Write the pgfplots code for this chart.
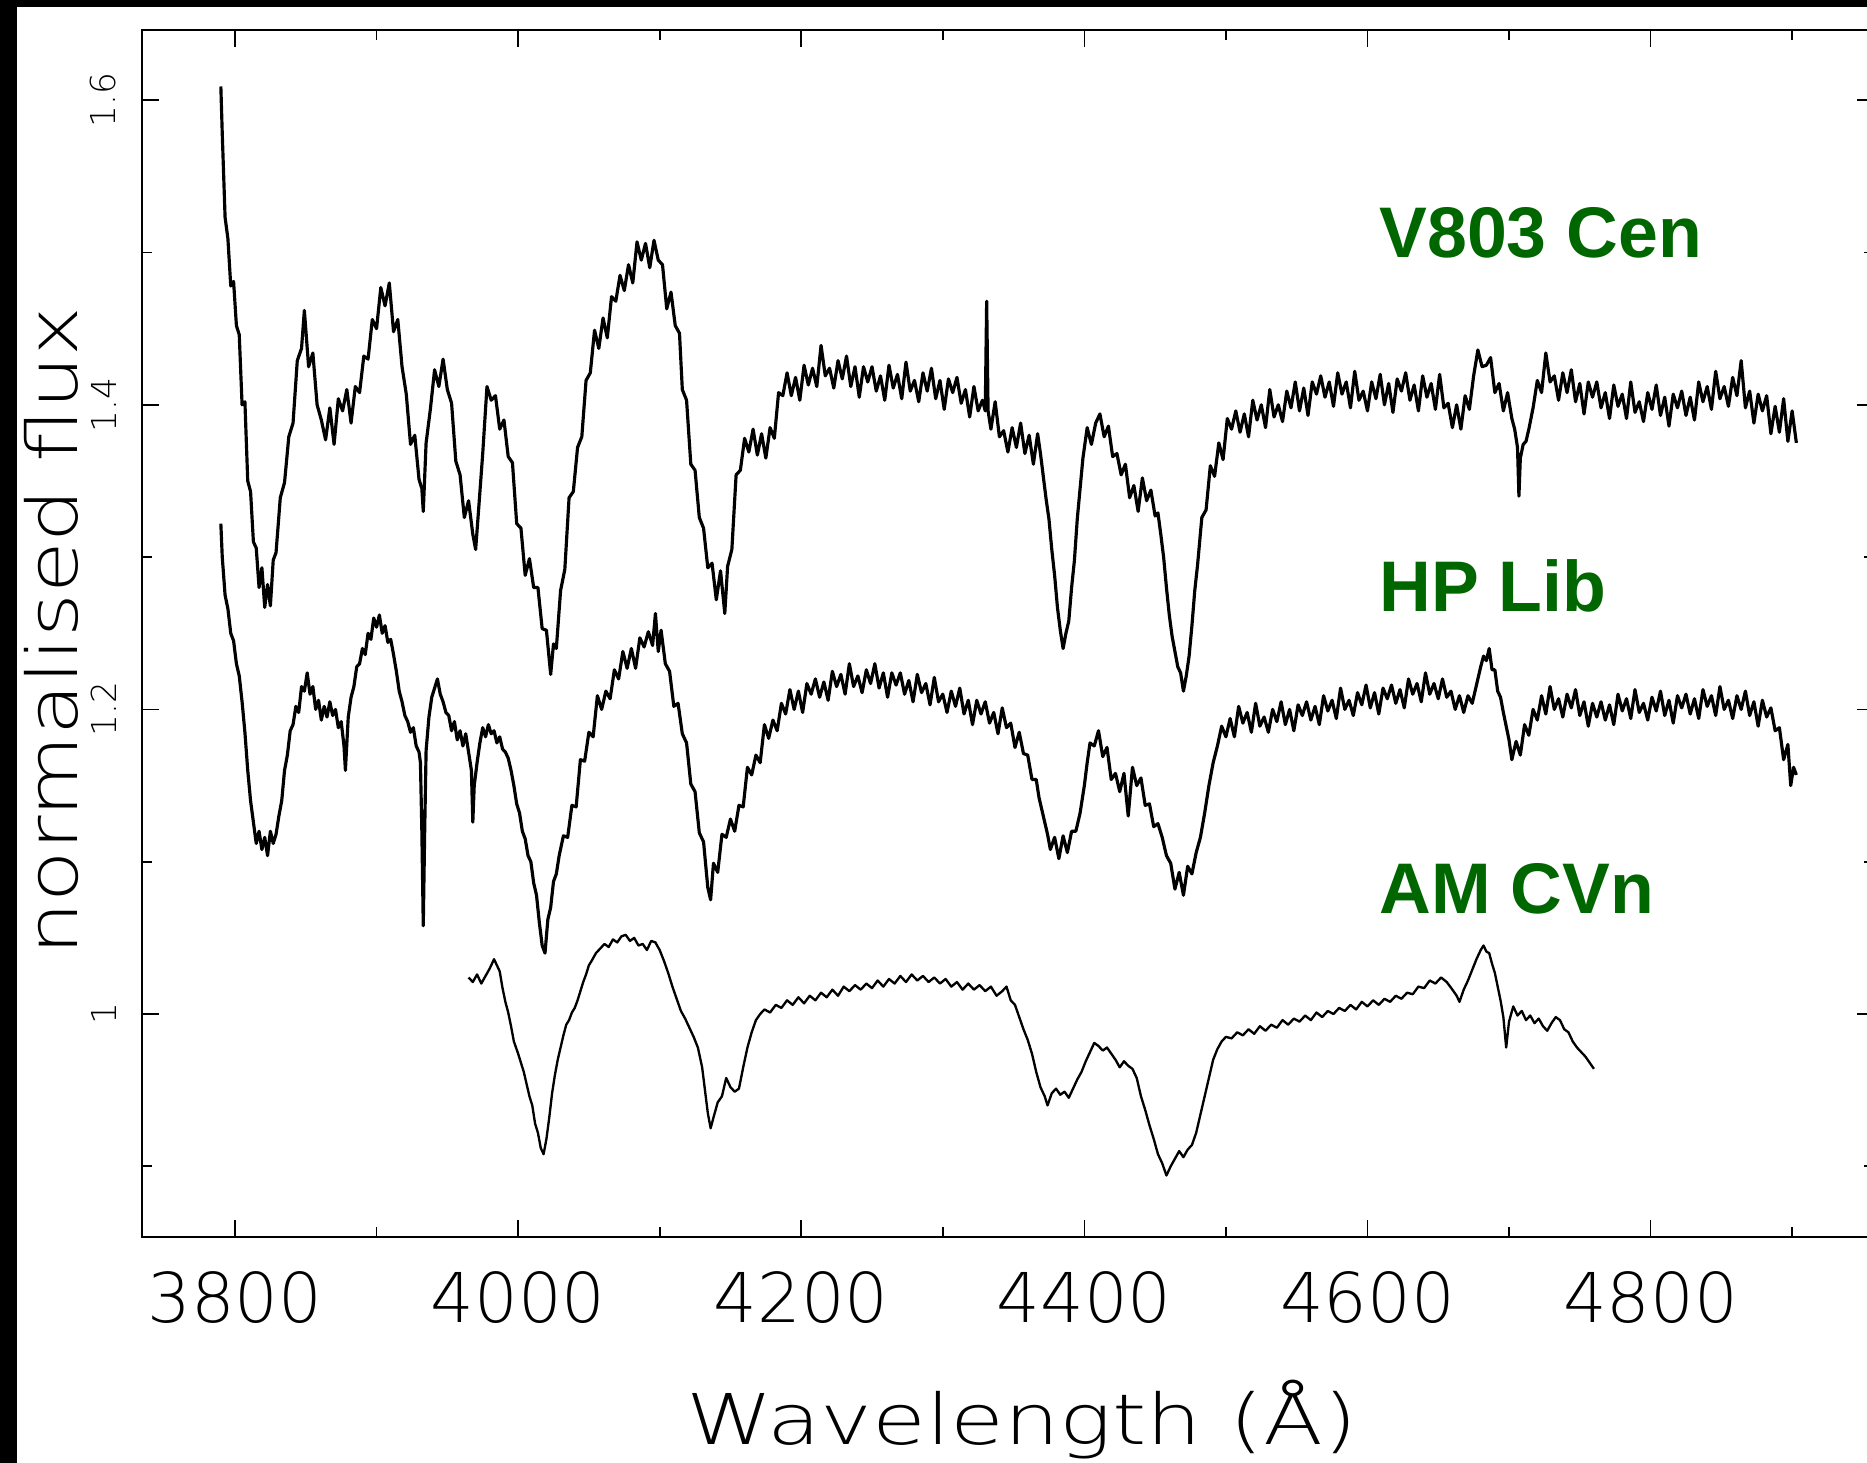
\documentclass[border=0pt]{standalone}
\usepackage{fontspec}
\usepackage{graphicx}
\usepackage{pgfplots}
\pgfplotsset{compat=1.18}
\newfontfamily\pgfont{DejaVu Sans ExtraLight}
\newfontfamily\lblfont{Liberation Sans}
\definecolor{lblgreen}{RGB}{0,102,0}
\begin{document}
\begin{tikzpicture}
\fill[black] (-42.6pt,-67.8pt) rectangle (517.5pt,371.1pt);
\fill[white] (-37.5pt,-67.8pt) rectangle (517.5pt,369.0pt);
\begin{axis}[
  at={(0,0)}, anchor=south west,
  scale only axis, width=519.5pt, height=362.1pt,
  xmin=3734.3, xmax=4957.6, ymin=0.8536, ymax=1.6461,
  xtick={3800,4000,4200,4400,4600,4800},
  xticklabels={3800,4000,4200,4400,4600,4800},
  minor xtick={3900,4100,4300,4500,4700,4900},
  ytick={1,1.2,1.4,1.6},
  yticklabels={1,1.2,1.4,1.6},
  minor ytick={0.9,1.1,1.3,1.5},
  tick align=inside,
  major tick length=5.1pt, minor tick length=3pt,
  axis line style={line width=0.5pt},
  every tick/.style={black, line width=0.5pt},
  xticklabel style={font=\pgfont\fontsize{20.6}{24}\selectfont, anchor=center, yshift=-18.3pt, inner sep=0pt},
  yticklabel style={font=\pgfont\fontsize{10.3}{12}\selectfont, xshift=-7.5pt, rotate=90, anchor=south, inner sep=0pt},
  no markers,
]
% V803 Cen
\addplot[black, line width=0.95pt, line join=round] coordinates {
(3790,1.609)(3791,1.578)(3793,1.523)(3795,1.509)(3797,1.478)(3799,1.481)(3801,1.452)(3803,1.446)(3805,1.400)(3807,1.402)(3809,1.350)(3811,1.343)(3813,1.310)(3815,1.306)(3817,1.280)(3819,1.293)(3821,1.267)(3823,1.282)(3825,1.268)(3827,1.298)(3829,1.303)
(3832,1.339)(3835,1.349)(3838,1.379)(3841,1.388)(3844,1.429)(3847,1.437)(3849,1.462)(3852,1.425)(3855,1.434)(3858,1.400)(3861,1.390)(3864,1.377)(3867,1.398)(3870,1.374)(3873,1.404)(3876,1.396)(3879,1.410)(3882,1.388)(3885,1.412)(3888,1.408)(3891,1.432)(3894,1.430)(3897,1.456)(3900,1.450)(3903,1.477)(3906,1.465)(3909,1.480)(3912,1.448)(3915,1.456)(3918,1.425)(3921,1.407)(3924,1.374)(3927,1.380)(3930,1.351)(3932,1.345)(3933,1.330)(3935,1.375)(3938,1.397)(3941,1.423)(3944,1.412)(3947,1.430)(3950,1.410)(3953,1.401)(3956,1.363)(3959,1.354)(3962,1.326)(3965,1.337)(3968,1.315)(3970,1.305)(3972,1.330)(3975,1.368)(3978,1.412)(3981,1.403)(3984,1.406)(3987,1.384)(3990,1.390)(3993,1.366)(3996,1.362)(3999,1.322)
(4002,1.319)(4005,1.288)(4008,1.299)(4011,1.280)(4014,1.280)(4017,1.253)(4020,1.252)(4023,1.223)(4025,1.243)(4027,1.240)(4030,1.278)(4033,1.292)(4036,1.339)(4039,1.343)(4042,1.372)(4045,1.379)(4048,1.416)(4051,1.421)(4054,1.449)(4057,1.437)(4060,1.457)(4063,1.444)(4066,1.471)(4069,1.468)(4072,1.485)(4075,1.475)(4078,1.492)(4081,1.480)(4084,1.507)(4087,1.495)(4090,1.506)(4093,1.490)(4096,1.508)(4099,1.495)(4102,1.492)(4105,1.463)(4108,1.474)(4111,1.452)(4114,1.447)(4116,1.410)(4119,1.403)(4122,1.361)(4125,1.357)(4128,1.326)(4131,1.319)(4134,1.293)(4137,1.296)(4140,1.272)(4143,1.291)(4146,1.263)(4148,1.294)(4151,1.305)(4154,1.354)(4157,1.357)(4160,1.378)(4163,1.369)(4166,1.384)(4169,1.367)(4172,1.381)(4175,1.365)(4178,1.385)(4181,1.378)(4184,1.408)(4187,1.406)(4190,1.421)(4193,1.406)(4196,1.418)(4199,1.403)
(4202,1.426)(4205,1.413)(4208,1.424)(4211,1.412)(4214,1.439)(4217,1.419)(4220,1.424)(4223,1.411)(4226,1.429)(4229,1.417)(4232,1.432)(4235,1.412)(4238,1.425)(4241,1.405)(4244,1.425)(4247,1.415)(4250,1.425)(4253,1.409)(4256,1.419)(4259,1.403)(4262,1.426)(4265,1.411)(4268,1.420)(4271,1.404)(4274,1.428)(4277,1.409)(4280,1.416)(4283,1.402)(4286,1.421)(4289,1.409)(4292,1.424)(4295,1.404)(4298,1.416)(4301,1.397)(4304,1.417)(4307,1.408)(4310,1.418)(4313,1.401)(4316,1.410)(4319,1.392)(4322,1.412)(4325,1.396)(4328,1.403)(4330,1.396)(4331,1.468)(4332,1.396)(4334,1.384)(4337,1.402)(4340,1.379)(4343,1.383)(4346,1.369)(4349,1.385)(4352,1.372)(4355,1.388)(4358,1.368)(4361,1.380)(4364,1.361)(4367,1.381)(4369,1.368)(4371,1.353)(4373,1.338)(4375,1.325)(4377,1.305)(4379,1.288)(4381,1.267)(4383,1.252)(4385,1.240)(4387,1.250)(4389,1.258)(4391,1.280)(4393,1.298)(4395,1.325)(4397,1.345)(4399,1.365)
(4402,1.385)(4405,1.374)(4408,1.388)(4411,1.394)(4414,1.379)(4417,1.386)(4420,1.366)(4423,1.368)(4426,1.354)(4429,1.361)(4432,1.339)(4435,1.347)(4438,1.330)(4441,1.352)(4444,1.337)(4447,1.344)(4450,1.327)(4452,1.329)(4454,1.315)(4456,1.300)(4458,1.280)(4460,1.262)(4462,1.248)(4464,1.238)(4466,1.228)(4468,1.224)(4470,1.212)(4472,1.222)(4474,1.235)(4476,1.255)(4478,1.278)(4480,1.295)(4483,1.326)(4486,1.331)(4489,1.360)(4492,1.353)(4495,1.375)(4498,1.364)(4501,1.391)(4504,1.384)(4507,1.396)(4510,1.382)(4513,1.394)(4516,1.379)(4519,1.403)(4522,1.390)(4525,1.400)(4528,1.385)(4531,1.410)(4534,1.392)(4537,1.400)(4540,1.389)(4543,1.409)(4546,1.398)(4549,1.415)(4552,1.396)(4555,1.411)(4558,1.393)(4561,1.415)(4564,1.407)(4567,1.419)(4570,1.405)(4573,1.415)(4576,1.399)(4579,1.421)(4582,1.407)(4585,1.415)(4588,1.398)(4591,1.422)(4594,1.403)(4597,1.409)
(4600,1.396)(4603,1.415)(4606,1.404)(4609,1.420)(4612,1.400)(4615,1.414)(4618,1.395)(4621,1.417)(4624,1.409)(4627,1.421)(4630,1.403)(4633,1.413)(4636,1.396)(4639,1.419)(4642,1.405)(4645,1.414)(4648,1.397)(4651,1.420)(4654,1.398)(4657,1.401)(4660,1.385)(4663,1.400)(4666,1.384)(4669,1.406)(4672,1.397)(4675,1.419)(4678,1.436)(4681,1.425)(4684,1.426)(4687,1.431)(4690,1.408)(4693,1.414)(4696,1.396)(4699,1.408)(4702,1.391)(4704,1.384)(4706,1.372)(4707,1.340)(4708,1.365)(4710,1.374)(4712,1.376)(4714,1.384)(4717,1.398)(4720,1.416)(4723,1.408)(4726,1.434)(4729,1.415)(4732,1.419)(4735,1.403)(4738,1.421)(4741,1.408)(4744,1.423)(4747,1.402)(4750,1.414)(4753,1.394)(4756,1.415)(4759,1.405)(4762,1.415)(4765,1.398)(4768,1.408)(4771,1.391)(4774,1.413)(4777,1.399)(4780,1.407)(4783,1.391)(4786,1.415)(4789,1.395)(4792,1.402)(4795,1.389)(4798,1.408)
(4801,1.397)(4804,1.413)(4807,1.393)(4810,1.405)(4813,1.386)(4816,1.407)(4819,1.398)(4822,1.409)(4825,1.393)(4828,1.405)(4831,1.390)(4834,1.415)(4837,1.402)(4840,1.412)(4843,1.397)(4846,1.422)(4849,1.404)(4852,1.412)(4855,1.399)(4858,1.418)(4861,1.406)(4864,1.429)(4867,1.398)(4870,1.409)(4873,1.388)(4876,1.407)(4879,1.396)(4882,1.406)(4885,1.381)(4888,1.399)(4891,1.382)(4894,1.404)(4897,1.376)(4900,1.396)(4903,1.375)
};
% HP Lib
\addplot[black, line width=0.95pt, line join=round] coordinates {
(3790,1.322)(3791,1.300)(3793,1.275)(3795,1.266)(3797,1.250)(3799,1.245)(3801,1.230)(3803,1.222)(3805,1.205)(3807,1.185)(3809,1.160)(3811,1.140)(3813,1.126)(3815,1.112)(3817,1.120)(3819,1.108)(3821,1.116)(3823,1.104)(3825,1.120)(3827,1.112)(3829,1.118)(3831,1.130)(3833,1.140)(3835,1.160)(3837,1.170)(3839,1.186)(3841,1.190)(3843,1.202)(3845,1.198)(3847,1.215)(3849,1.212)(3851,1.224)(3853,1.210)(3855,1.215)(3857,1.200)(3859,1.206)(3861,1.193)(3863,1.202)(3865,1.195)(3867,1.205)(3869,1.196)(3871,1.200)(3873,1.188)(3875,1.192)(3877,1.176)(3878,1.160)(3880,1.195)(3882,1.208)(3884,1.215)(3886,1.228)(3888,1.230)(3890,1.240)(3892,1.236)(3894,1.250)(3896,1.246)(3898,1.260)
(3900,1.254)(3902,1.262)(3904,1.250)(3906,1.255)(3908,1.244)(3910,1.246)(3912,1.236)(3914,1.225)(3916,1.212)(3918,1.205)(3920,1.196)(3922,1.192)(3924,1.185)(3926,1.188)(3928,1.176)(3930,1.172)(3931,1.165)(3932,1.120)(3933,1.058)(3934,1.120)(3935,1.173)(3937,1.195)(3939,1.208)(3941,1.214)(3943,1.220)(3945,1.210)(3947,1.205)(3949,1.198)(3951,1.196)(3953,1.186)(3955,1.192)(3957,1.180)(3959,1.186)(3961,1.176)(3963,1.184)(3965,1.172)(3967,1.160)(3968,1.126)(3969,1.150)(3971,1.165)(3973,1.178)(3975,1.188)(3977,1.182)(3979,1.190)(3981,1.184)(3983,1.186)(3985,1.178)(3987,1.182)(3989,1.174)(3991,1.172)(3993,1.168)(3995,1.160)(3997,1.150)(3999,1.138)
(4001,1.132)(4003,1.120)(4005,1.115)(4007,1.104)(4009,1.100)(4011,1.086)(4013,1.078)(4015,1.060)(4017,1.045)(4019,1.040)(4021,1.062)(4023,1.070)(4025,1.087)(4027,1.092)(4029,1.104)(4032,1.117)(4035,1.116)(4038,1.137)(4041,1.136)(4044,1.167)(4047,1.166)(4050,1.185)(4053,1.182)(4056,1.209)(4059,1.200)(4062,1.212)(4065,1.207)(4068,1.226)(4071,1.220)(4074,1.238)(4077,1.227)(4080,1.240)(4083,1.227)(4086,1.247)(4089,1.241)(4092,1.251)(4095,1.242)(4097,1.263)(4099,1.238)(4101,1.252)(4104,1.230)(4107,1.225)(4110,1.202)(4113,1.204)(4116,1.184)(4119,1.178)(4122,1.151)(4125,1.146)(4128,1.119)(4131,1.113)(4134,1.083)(4136,1.075)(4138,1.099)(4141,1.093)(4144,1.118)(4147,1.116)(4150,1.128)(4153,1.120)(4156,1.137)(4159,1.136)(4162,1.162)(4165,1.157)(4168,1.170)(4171,1.165)(4174,1.190)(4177,1.181)(4180,1.193)(4183,1.186)(4186,1.204)(4189,1.197)(4192,1.213)(4195,1.200)(4198,1.212)
(4201,1.198)(4204,1.217)(4207,1.210)(4210,1.220)(4213,1.208)(4216,1.218)(4219,1.206)(4222,1.225)(4225,1.215)(4228,1.223)(4231,1.210)(4234,1.230)(4237,1.215)(4240,1.222)(4243,1.211)(4246,1.226)(4249,1.217)(4252,1.230)(4255,1.214)(4258,1.224)(4261,1.208)(4264,1.224)(4267,1.216)(4270,1.224)(4273,1.210)(4276,1.219)(4279,1.205)(4282,1.223)(4285,1.211)(4288,1.217)(4291,1.203)(4294,1.221)(4297,1.205)(4300,1.210)(4303,1.198)(4306,1.212)(4309,1.202)(4312,1.214)(4315,1.197)(4318,1.206)(4321,1.190)(4324,1.206)(4327,1.197)(4330,1.205)(4333,1.191)(4336,1.198)(4339,1.184)(4342,1.201)(4345,1.188)(4348,1.191)(4351,1.175)(4354,1.185)(4357,1.171)(4360,1.170)(4363,1.154)(4366,1.154)(4368,1.142)(4370,1.134)(4372,1.126)(4374,1.118)(4376,1.108)(4379,1.116)(4382,1.102)(4385,1.117)(4388,1.106)(4391,1.120)(4394,1.120)(4397,1.132)
(4400,1.150)(4402,1.165)(4404,1.178)(4407,1.176)(4410,1.186)(4413,1.169)(4416,1.175)(4419,1.154)(4422,1.158)(4425,1.146)(4428,1.158)(4431,1.130)(4434,1.162)(4437,1.150)(4440,1.155)(4443,1.137)(4446,1.138)(4449,1.123)(4452,1.125)(4455,1.116)(4458,1.104)(4461,1.099)(4464,1.082)(4467,1.093)(4470,1.078)(4473,1.097)(4476,1.092)(4479,1.106)(4482,1.116)(4485,1.132)(4488,1.150)(4491,1.165)(4494,1.176)(4497,1.189)(4500,1.182)(4503,1.194)(4506,1.182)(4509,1.202)(4512,1.191)(4515,1.198)(4518,1.185)(4521,1.204)(4524,1.189)(4527,1.195)(4530,1.185)(4533,1.200)(4536,1.192)(4539,1.205)(4542,1.190)(4545,1.200)(4548,1.186)(4551,1.203)(4554,1.196)(4557,1.205)(4560,1.193)(4563,1.202)(4566,1.190)(4569,1.209)(4572,1.199)(4575,1.206)(4578,1.194)(4581,1.214)(4584,1.200)(4587,1.206)(4590,1.196)(4593,1.211)(4596,1.203)(4599,1.216)
(4602,1.201)(4605,1.211)(4608,1.197)(4611,1.214)(4614,1.207)(4617,1.216)(4620,1.204)(4623,1.213)(4626,1.201)(4629,1.220)(4632,1.210)(4635,1.217)(4638,1.205)(4641,1.224)(4644,1.210)(4647,1.217)(4650,1.207)(4653,1.220)(4656,1.208)(4659,1.212)(4662,1.200)(4665,1.209)(4668,1.198)(4671,1.209)(4674,1.204)(4677,1.216)(4680,1.228)(4682,1.235)(4684,1.232)(4686,1.240)(4688,1.226)(4690,1.226)(4692,1.212)(4694,1.208)(4696,1.198)(4698,1.189)(4700,1.180)(4702,1.167)(4705,1.179)(4708,1.170)(4711,1.190)(4714,1.183)(4717,1.200)(4720,1.193)(4723,1.209)(4726,1.197)(4729,1.215)(4732,1.200)(4735,1.207)(4738,1.195)(4741,1.210)(4744,1.201)(4747,1.213)(4750,1.196)(4753,1.205)(4756,1.189)(4759,1.204)(4762,1.195)(4765,1.205)(4768,1.193)(4771,1.203)(4774,1.190)(4777,1.210)(4780,1.199)(4783,1.207)(4786,1.194)(4789,1.213)(4792,1.198)(4795,1.204)(4798,1.193)
(4801,1.208)(4804,1.199)(4807,1.212)(4810,1.196)(4813,1.206)(4816,1.191)(4819,1.209)(4822,1.201)(4825,1.210)(4828,1.197)(4831,1.207)(4834,1.194)(4837,1.213)(4840,1.202)(4843,1.209)(4846,1.196)(4849,1.215)(4852,1.200)(4855,1.206)(4858,1.194)(4861,1.209)(4864,1.200)(4867,1.212)(4870,1.196)(4873,1.205)(4876,1.189)(4879,1.206)(4882,1.195)(4885,1.201)(4888,1.186)(4891,1.188)(4894,1.167)(4897,1.177)(4899,1.150)(4901,1.162)(4903,1.157)
};
% AM CVn
\addplot[black, line width=0.7pt, line join=round] coordinates {
(3965,1.024)(3968,1.021)(3971,1.026)(3974,1.020)(3977,1.025)(3980,1.030)(3983,1.036)(3985,1.032)(3987,1.028)(3989,1.017)(3991,1.008)(3993,1.001)(3995,0.992)(3997,0.982)(4000,0.974)(4002,0.968)(4004,0.962)(4006,0.954)(4008,0.946)(4010,0.940)(4012,0.928)(4014,0.922)(4016,0.912)(4018,0.908)(4020,0.918)(4022,0.932)(4024,0.948)(4026,0.960)(4028,0.970)(4030,0.978)(4032,0.986)(4034,0.993)(4036,0.996)(4038,1.001)(4040,1.004)(4042,1.009)(4044,1.015)(4046,1.021)(4048,1.026)(4050,1.032)(4052,1.035)(4055,1.040)(4058,1.043)(4061,1.046)(4064,1.044)(4067,1.049)(4070,1.047)(4073,1.051)(4076,1.052)(4079,1.048)(4082,1.050)(4085,1.045)(4088,1.046)(4091,1.042)(4094,1.048)(4097,1.047)(4100,1.042)
(4103,1.035)(4106,1.027)(4109,1.018)(4112,1.010)(4115,1.002)(4118,0.997)(4121,0.991)(4124,0.985)(4127,0.978)(4130,0.965)(4132,0.950)(4134,0.935)(4136,0.925)(4138,0.932)(4141,0.942)(4144,0.946)(4147,0.958)(4150,0.952)(4153,0.949)(4156,0.951)(4159,0.965)(4162,0.978)(4165,0.988)(4168,0.996)(4171,1.000)(4174,1.003)(4178,1.001)(4182,1.006)(4186,1.004)(4190,1.009)(4194,1.006)(4198,1.011)(4202,1.007)(4206,1.012)(4210,1.009)(4214,1.014)(4218,1.011)(4222,1.016)(4226,1.012)(4230,1.018)(4234,1.015)(4238,1.019)(4242,1.016)(4246,1.020)(4250,1.017)(4254,1.022)(4258,1.018)(4262,1.023)(4266,1.020)(4270,1.025)(4274,1.021)(4278,1.026)(4282,1.022)(4286,1.025)(4290,1.021)(4294,1.024)(4298,1.020)
(4302,1.023)(4306,1.018)(4310,1.021)(4314,1.016)(4318,1.020)(4322,1.016)(4326,1.019)(4330,1.015)(4334,1.018)(4338,1.012)(4342,1.015)(4345,1.018)(4348,1.009)(4351,1.006)(4354,0.998)(4357,0.990)(4360,0.983)(4363,0.974)(4366,0.962)(4369,0.952)(4372,0.946)(4374,0.940)(4377,0.948)(4380,0.951)(4383,0.947)(4386,0.949)(4389,0.945)(4392,0.951)(4395,0.957)(4398,0.962)(4401,0.969)(4404,0.975)(4407,0.981)(4410,0.979)(4413,0.976)(4416,0.978)(4419,0.974)(4422,0.970)(4425,0.965)(4428,0.969)(4431,0.966)(4434,0.964)(4437,0.958)(4440,0.946)(4443,0.937)(4446,0.927)(4449,0.918)(4452,0.908)(4455,0.902)(4458,0.894)(4461,0.900)(4464,0.905)(4467,0.910)(4470,0.906)(4473,0.911)(4476,0.914)(4479,0.922)(4482,0.934)(4485,0.946)(4488,0.958)(4491,0.970)(4494,0.977)(4497,0.982)
(4500,0.985)(4504,0.984)(4508,0.988)(4512,0.986)(4516,0.990)(4520,0.987)(4524,0.992)(4528,0.989)(4532,0.993)(4536,0.991)(4540,0.996)(4544,0.993)(4548,0.997)(4552,0.995)(4556,0.999)(4560,0.996)(4564,1.001)(4568,0.998)(4572,1.002)(4576,1.000)(4580,1.004)(4584,1.002)(4588,1.006)(4592,1.003)(4596,1.008)(4600,1.005)(4604,1.009)(4608,1.006)(4612,1.010)(4616,1.008)(4620,1.012)(4624,1.010)(4628,1.014)(4632,1.013)(4636,1.018)(4640,1.017)(4644,1.022)(4648,1.020)(4652,1.024)(4656,1.021)(4660,1.016)(4663,1.012)(4665,1.008)(4668,1.016)(4671,1.022)(4674,1.029)(4677,1.036)(4680,1.042)(4682,1.045)(4684,1.041)(4686,1.040)(4688,1.033)(4690,1.027)(4692,1.018)(4694,1.009)(4696,0.998)(4698,0.978)
(4700,0.995)(4703,1.005)(4706,0.999)(4709,1.002)(4712,0.996)(4715,0.999)(4718,0.994)(4721,0.997)(4724,0.992)(4727,0.989)(4730,0.994)(4733,0.998)(4736,0.996)(4739,0.990)(4742,0.988)(4745,0.982)(4748,0.978)(4751,0.975)(4754,0.972)(4757,0.968)(4760,0.964)
};
\node[anchor=base west, inner sep=0pt, text=lblgreen, font=\lblfont\bfseries\fontsize{21.5}{26}\selectfont] at (axis cs:4608,1.4964) {V803 Cen};
\node[anchor=base west, inner sep=0pt, text=lblgreen, font=\lblfont\bfseries\fontsize{21.5}{26}\selectfont] at (axis cs:4608,1.2646) {HP Lib};
\node[anchor=base west, inner sep=0pt, text=lblgreen, font=\lblfont\bfseries\fontsize{21.5}{26}\selectfont] at (axis cs:4608,1.0657) {AM CVn};
\end{axis}
\node[rotate=90, anchor=base, inner sep=0pt, font=\pgfont\fontsize{21}{25}\selectfont] at (-19.5pt,181.8pt) {\scalebox{1.2}[1]{normalised flux}};
\node[anchor=base, inner sep=0pt, font=\pgfont\fontsize{21}{25}\selectfont] at (264pt,-62.4pt) {\scalebox{1.25}[1]{Wavelength (Å)}};
\pgfresetboundingbox
\useasboundingbox (-42.6pt,-67.8pt) rectangle (517.5pt,371.1pt);
\end{tikzpicture}
\end{document}
